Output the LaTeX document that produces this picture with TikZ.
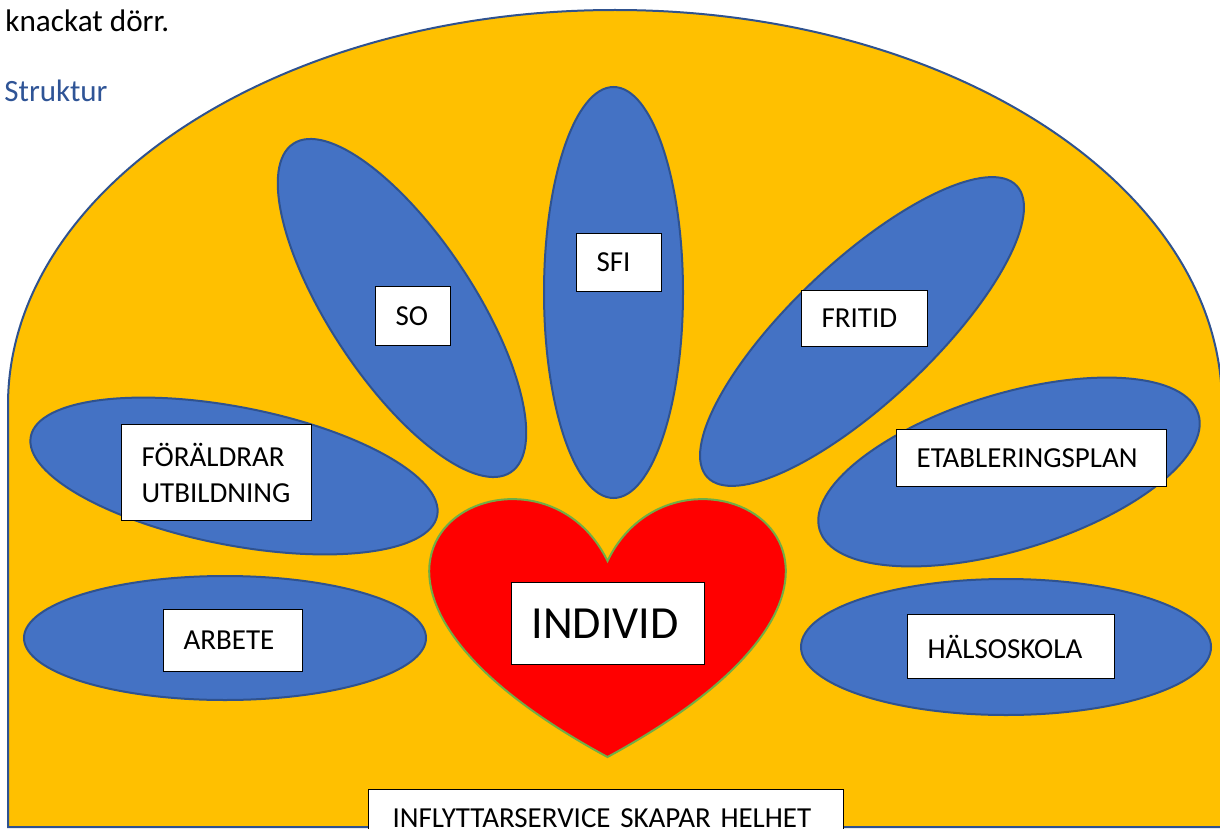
\documentclass[tikz,border=0pt]{standalone}
\usepackage{fontspec}
\setmainfont{Carlito}

\definecolor{archyellow}{HTML}{FFC000}
\definecolor{petalblue}{HTML}{4472C4}
\definecolor{edgeblue}{HTML}{2F528F}
\definecolor{heartgreen}{HTML}{70AD47}
\definecolor{headblue}{HTML}{2F5496}

\begin{document}
\begin{tikzpicture}[x=0.5pt,y=-0.5pt,
    petal/.style={fill=petalblue, draw=edgeblue, line width=1pt},
    labelbox/.style={draw=black, fill=white, line width=0.6pt, anchor=north west, align=left,
        inner xsep=10pt, inner ysep=0pt, font=\fontsize{14.5}{18}\selectfont}]
    \useasboundingbox (0,0) rectangle (1220,829);
    \node[anchor=base west, inner sep=0pt, font=\fontsize{15.6}{18}\selectfont] (intro) at (5,32) {knackat dörr.}; % text above
    \node[anchor=base west, inner sep=0pt, text=headblue, font=\fontsize{15.5}{18}\selectfont] (heading) at (4,102) {Struktur}; % heading
    \draw[fill=archyellow, draw=edgeblue, line width=1pt] (8,827) -- (8,405) arc[start angle=180, end angle=360, x radius=607, y radius=395] -- (1222,827) -- cycle; % arch
    \draw[petal, rotate around={-11:(234,476)}] (234,476) ellipse[x radius=207, y radius=69]; % foraldrar
    \draw[petal] (225,638) ellipse[x radius=201, y radius=62]; % arbete
    \draw[petal, rotate around={-56.5:(402,308)}] (402,308) ellipse[x radius=197, y radius=72]; % so
    \draw[petal] (613.5,292.5) ellipse[x radius=69.5, y radius=205.5]; % sfi
    \draw[petal, rotate around={43.3:(862,331.5)}] (862,331.5) ellipse[x radius=212.5, y radius=70]; % fritid
    \draw[petal, rotate around={17:(1009,472)}] (1009,472) ellipse[x radius=198, y radius=78]; % etableringsplan
    \draw[petal] (1006,647) ellipse[x radius=205, y radius=68]; % halsoskola
    \draw[fill=red, draw=heartgreen, line width=1pt] (607.5,561) .. controls (681,409) and (969,561) .. (607.5,757)
        .. controls (246,561) and (534,409) .. (607.5,561) -- cycle; % heart
    \node[labelbox, text width=75pt, minimum height=48pt] (foraldrar) at (121,424) {FÖRÄLDRAR\\UTBILDNING};
    \node[labelbox, text width=49.5pt, minimum height=31pt] (arbete) at (163,609) {ARBETE};
    \node[labelbox, text width=17.5pt, minimum height=29.5pt] (so) at (375,286) {SO};
    \node[labelbox, text width=22.5pt, minimum height=29pt] (sfi) at (576,233) {SFI};
    \node[labelbox, text width=43pt, minimum height=28pt] (fritid) at (801,290) {FRITID};
    \node[labelbox, text width=115pt, minimum height=28.5pt] (etablering) at (896,429) {ETABLERINGSPLAN};
    \node[labelbox, text width=83.5pt, minimum height=32pt] (halsoskola) at (907,614) {HÄLSOSKOLA};
    \node[labelbox, text width=76.5pt, minimum height=41pt, font=\fontsize{23}{28}\selectfont] (individ) at (511,582) {INDIVID};
    \node[labelbox, text width=213.5pt, minimum height=29pt, inner xsep=12pt] (helhet) at (368,789) {INFLYTTARSERVICE SKAPAR HELHET};
\end{tikzpicture}
\end{document}
